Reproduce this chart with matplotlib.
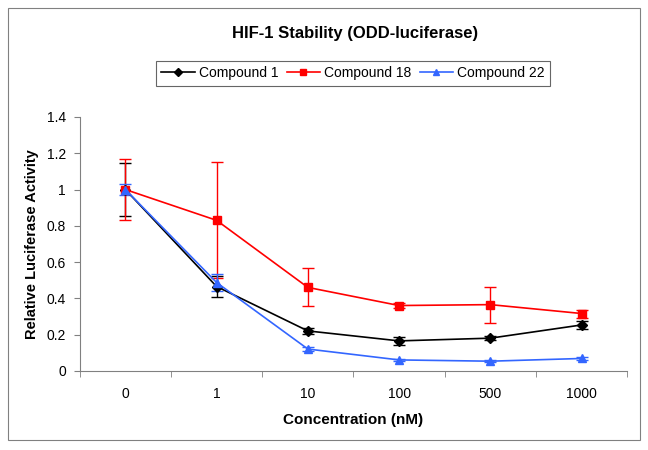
import numpy as np
from matplotlib import pyplot as plt
from matplotlib.patches import Rectangle
from matplotlib.lines import Line2D

plt.rcParams['font.family'] = ['Liberation Sans', 'DejaVu Sans']

concentrations = ["0", "1", "10", "100", "500", "1000"]
cmpd1 = [1.0, 0.465, 0.22, 0.165, 0.18, 0.253]
cmpd1_err = [0.145, 0.06, 0.015, 0.02, 0.01, 0.022]
cmpd18 = [1.0, 0.83, 0.46, 0.36, 0.365, 0.316]
cmpd18_err = [0.17, 0.32, 0.105, 0.012, 0.1, 0.022]
cmpd22 = [1.0, 0.487, 0.12, 0.06, 0.053, 0.068]
cmpd22_err = [0.03, 0.045, 0.012, 0.006, 0.006, 0.01]

fig = plt.figure(figsize=(6.48, 4.5), dpi=100)
fig.patches.append(Rectangle((8 / 648, 10 / 450), 632 / 648, 432 / 450, transform=fig.transFigure,
                             fill=False, edgecolor='#808080', linewidth=0.8))
ax = fig.add_axes([0.123, 0.176, 0.845, 0.564])

x = np.arange(len(concentrations))
series = [
    ("Compound 1", cmpd1, cmpd1_err, 'black', 'D', 5),
    ("Compound 18", cmpd18, cmpd18_err, '#FF0000', 's', 6),
    ("Compound 22", cmpd22, cmpd22_err, '#3366FF', '^', 6),
]
handles = []
for label, vals, err, color, marker, ms in series:
    ax.errorbar(x, vals, yerr=err, color=color, marker=marker, markersize=ms,
                linewidth=1.2, elinewidth=1.0, capsize=4, capthick=1.0)
    handles.append(Line2D([], [], color=color, marker=marker, markersize=ms - 1,
                          linewidth=1.2, label=label))

ax.set_xlim(-0.5, len(concentrations) - 0.5)
ax.set_ylim(0, 1.4)
ax.set_yticks(np.arange(0, 1.41, 0.2))
ax.set_yticklabels(["0", "0.2", "0.4", "0.6", "0.8", "1", "1.2", "1.4"])
ax.set_xticks(x)
ax.set_xticklabels(concentrations)
ax.set_xticks(np.arange(-0.5, len(concentrations), 1), minor=True)
ax.tick_params(axis='x', which='major', length=0, labelsize=10, pad=12)
ax.tick_params(axis='x', which='minor', length=4, color='#808080')
ax.tick_params(axis='y', length=4, color='#808080', labelsize=10, pad=6)

for side in ['top', 'right']:
    ax.spines[side].set_visible(False)
for side in ['left', 'bottom']:
    ax.spines[side].set_color('#808080')

ax.set_xlabel("Concentration (nM)", fontsize=11, fontweight='bold', labelpad=8)
ax.set_ylabel("Relative Luciferase Activity", fontsize=10.5, fontweight='bold', labelpad=5)
fig.text(0.548, 0.926, "HIF-1 Stability (ODD-luciferase)", ha='center', va='center',
         fontsize=12, fontweight='bold')

leg = fig.legend(handles=handles, loc='center', bbox_to_anchor=(0.545, 0.837), ncol=3,
                 fontsize=10, frameon=True, fancybox=False, edgecolor='#404040',
                 handlelength=2.4, handletextpad=0.3, columnspacing=0.6, borderpad=0.4)
leg.get_frame().set_linewidth(0.8)

fig.savefig("out.png", dpi=100)
